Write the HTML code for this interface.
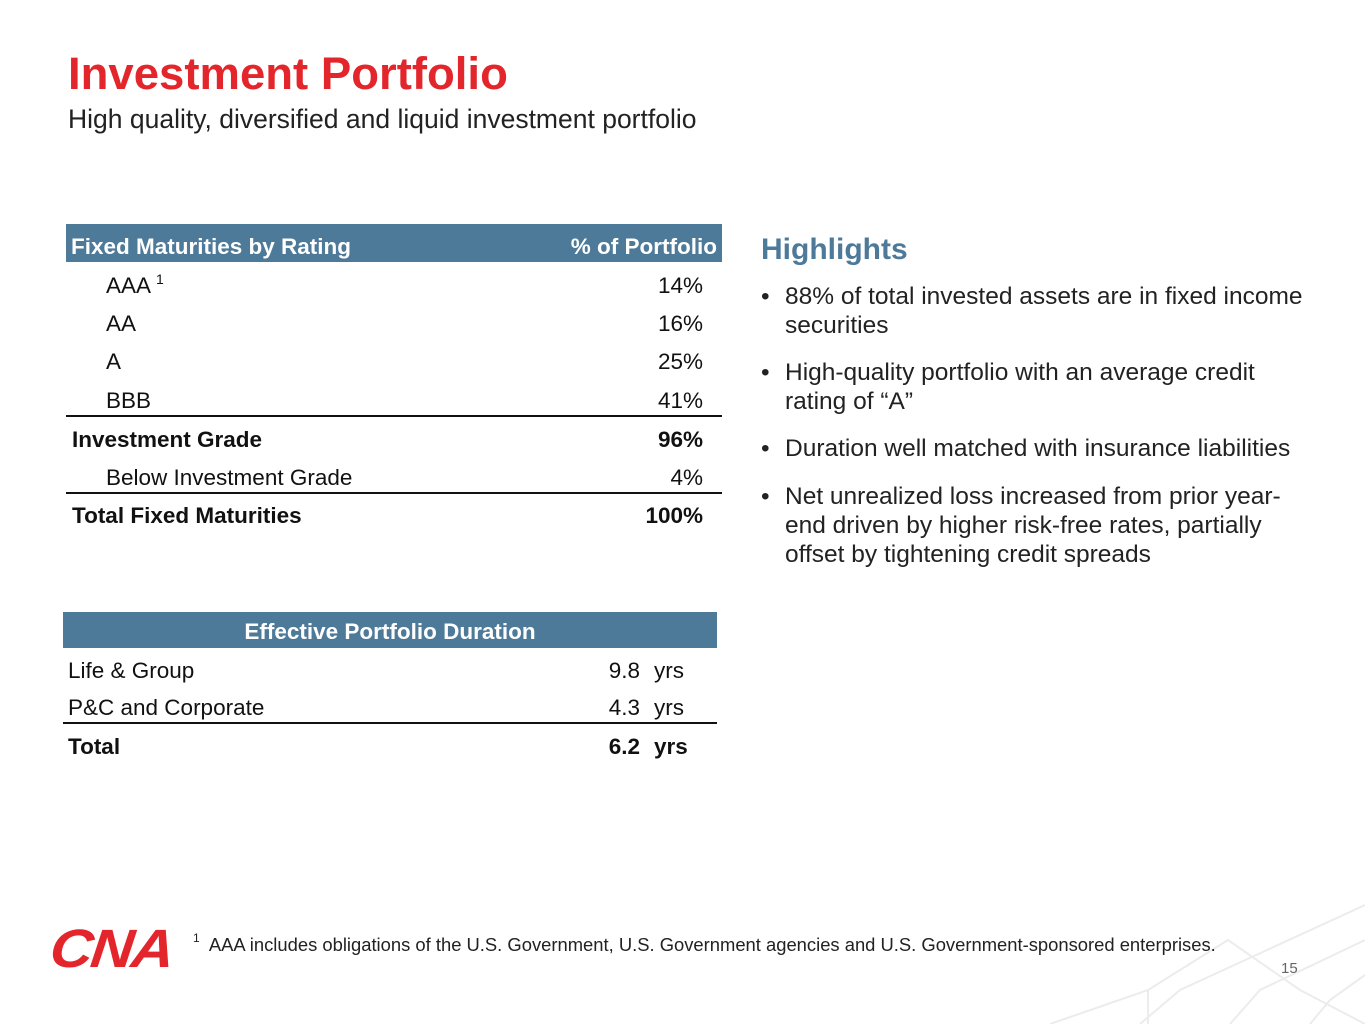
<!DOCTYPE html>
<html><head><meta charset="utf-8"><style>
body{margin:0;width:1365px;height:1024px;background:#fff;position:relative;overflow:hidden;font-family:"Liberation Sans",Arial,sans-serif;color:#111}
.a{position:absolute;white-space:nowrap}
.r{text-align:right}
.row{font-size:22.5px;line-height:24px}
.b{font-weight:bold}
.hdr{position:absolute;background:#4e7a9a;color:#fff;font-weight:bold;font-size:22.5px}
.line{position:absolute;height:2px;background:#111}
.bul{font-size:24.5px;line-height:29px;color:#222}
sup{position:relative;top:-9px;vertical-align:baseline;line-height:0}
</style></head><body>
<svg class="a" style="left:0;top:0" width="1365" height="1024">
<g stroke="#ececec" stroke-width="2" fill="none">
<polyline points="1365,905 1180,990 1140,1024"/>
<polyline points="1365,940 1260,990 1230,1024"/>
<polyline points="1148,1024 1148,990 1228,940 1300,990 1365,1024"/>
<polyline points="1365,975 1330,1000 1310,1024"/>
<line x1="1050" y1="1024" x2="1148" y2="990"/>
</g></svg>
<div class="a b" style="left:68px;top:48px;font-size:45.5px;color:#e3262b">Investment Portfolio</div>
<div class="a" style="left:68px;top:104px;font-size:26.5px;color:#222">High quality, diversified and liquid investment portfolio</div>

<div>
<div class="hdr" style="left:66px;top:224px;width:656px;height:38px">
<span class="a" style="left:5px;top:10px">Fixed Maturities by Rating</span>
<span class="a" style="right:5px;top:10px">% of Portfolio</span></div>
<div class="a row" style="left:106px;top:274px">AAA <sup style="font-size:14px">1</sup></div>
<div class="a row r" style="right:662px;top:274px">14%</div>
<div class="a row" style="left:106px;top:312px">AA</div>
<div class="a row r" style="right:662px;top:312px">16%</div>
<div class="a row" style="left:106px;top:350px">A</div>
<div class="a row r" style="right:662px;top:350px">25%</div>
<div class="a row" style="left:106px;top:389px">BBB</div>
<div class="a row r" style="right:662px;top:389px">41%</div>
<div class="line" style="left:66px;top:415px;width:656px"></div>
<div class="a row b" style="left:72px;top:428px">Investment Grade</div>
<div class="a row r b" style="right:662px;top:428px">96%</div>
<div class="a row" style="left:106px;top:466px">Below Investment Grade</div>
<div class="a row r" style="right:662px;top:466px">4%</div>
<div class="line" style="left:66px;top:492px;width:656px"></div>
<div class="a row b" style="left:72px;top:504px">Total Fixed Maturities</div>
<div class="a row r b" style="right:662px;top:504px">100%</div>
</div>

<div>
<div class="hdr" style="left:63px;top:612px;width:654px;height:36px;text-align:center;line-height:40px">Effective Portfolio Duration</div>
<div class="a row" style="left:68px;top:659px">Life &amp; Group</div>
<div class="a row r" style="right:725px;top:659px">9.8</div>
<div class="a row" style="left:654px;top:659px">yrs</div>
<div class="a row" style="left:68px;top:696px">P&amp;C and Corporate</div>
<div class="a row r" style="right:725px;top:696px">4.3</div>
<div class="a row" style="left:654px;top:696px">yrs</div>
<div class="line" style="left:63px;top:722px;width:654px"></div>
<div class="a row b" style="left:68px;top:735px">Total</div>
<div class="a row r b" style="right:725px;top:735px">6.2</div>
<div class="a row b" style="left:654px;top:735px">yrs</div>
</div>

<div class="a b" style="left:761px;top:233px;font-size:30px;color:#4e7a9a">Highlights</div>
<div>
<div class="a bul" style="left:761px;top:282px">•</div>
<div class="a bul" style="left:785px;top:282px">88% of total invested assets are in fixed income<br>securities</div>
<div class="a bul" style="left:761px;top:358px">•</div>
<div class="a bul" style="left:785px;top:358px">High-quality portfolio with an average credit<br>rating of “A”</div>
<div class="a bul" style="left:761px;top:434px">•</div>
<div class="a bul" style="left:785px;top:434px">Duration well matched with insurance liabilities</div>
<div class="a bul" style="left:761px;top:482px">•</div>
<div class="a bul" style="left:785px;top:482px">Net unrealized loss increased from prior year-<br>end driven by higher risk-free rates, partially<br>offset by tightening credit spreads</div>
</div>

<div class="a b" style="left:54px;top:918px;font-size:54px;font-style:italic;color:#e3262b;transform:scaleX(1.1) skewX(-6deg);transform-origin:left top;letter-spacing:-2px">CNA</div>
<div class="a" style="left:193px;top:934px;font-size:18.4px;color:#222"><sup style="font-size:12px">1</sup>&nbsp; AAA includes obligations of the U.S. Government, U.S. Government agencies and U.S. Government-sponsored enterprises.</div>
<div class="a" style="left:1281px;top:960px;font-size:15px;color:#666">15</div>
</body></html>
